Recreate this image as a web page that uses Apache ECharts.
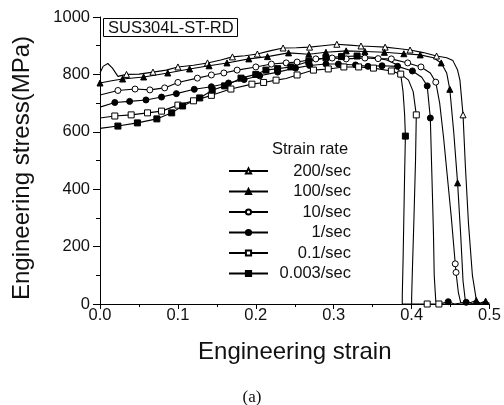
<!DOCTYPE html>
<html><head><meta charset="utf-8">
<script src="https://cdn.jsdelivr.net/npm/echarts@6/dist/echarts.min.js"></script>
<style>html,body{margin:0;padding:0;background:#fff}#c{width:504px;height:405px}</style>
</head><body><div id="c"></div>
<script>
// ---- data (strain, stress MPa) ----
const rateNames = ['200/sec', '100/sec', '10/sec', '1/sec', '0.1/sec', '0.003/sec'];
const xTicks = [0, 0.1, 0.2, 0.3, 0.4, 0.5];
const yTicks = [0, 200, 400, 600, 800, 1000];

const s200 = [[0.000,805],[0.004,828],[0.010,838],[0.016,822],[0.023,793],[0.034,800],[0.050,801],[0.068,808],[0.085,815],[0.100,826],[0.120,832],[0.138,840],[0.155,850],[0.170,861],[0.186,865],[0.202,871],[0.218,882],[0.235,892],[0.252,893],[0.269,895],[0.286,900],[0.304,905],[0.320,902],[0.335,899],[0.350,897],[0.366,895],[0.382,890],[0.398,885],[0.415,876],[0.432,864],[0.445,858],[0.453,848],[0.459,815],[0.462,780],[0.466,659],[0.469,480],[0.473,280],[0.478,100],[0.483,15],[0.487,2],[0.497,0]];
const m200 = [0.034,0.068,0.100,0.138,0.170,0.202,0.235,0.269,0.304,0.335,0.366,0.398,0.432,0.466];

const s100 = [[0.000,770],[0.015,778],[0.029,784],[0.056,791],[0.070,797],[0.087,805],[0.115,819],[0.140,830],[0.163,840],[0.191,854],[0.215,862],[0.242,875],[0.268,870],[0.290,877],[0.316,882],[0.340,880],[0.365,877],[0.390,872],[0.411,868],[0.428,858],[0.438,840],[0.445,805],[0.449,748],[0.454,600],[0.459,422],[0.463,240],[0.466,80],[0.469,10],[0.475,4],[0.483,12],[0.488,3],[0.495,10],[0.500,2]];
const m100 = [0.000,0.029,0.056,0.087,0.115,0.140,0.163,0.191,0.215,0.242,0.268,0.290,0.316,0.340,0.365,0.390,0.411,0.438,0.449,0.459,0.483,0.495];

const s10 = [[0.000,728],[0.023,744],[0.045,749],[0.064,746],[0.083,753],[0.100,772],[0.125,787],[0.143,798],[0.159,805],[0.176,815],[0.200,826],[0.220,836],[0.239,840],[0.253,843],[0.277,854],[0.298,857],[0.316,854],[0.340,857],[0.357,855],[0.374,854],[0.395,840],[0.412,826],[0.424,805],[0.431,773],[0.436,700],[0.441,580],[0.446,440],[0.451,300],[0.456,140],[0.457,110],[0.460,40],[0.463,5],[0.470,0]];
const m10 = [0.023,0.045,0.064,0.083,0.100,0.125,0.143,0.159,0.176,0.200,0.220,0.239,0.253,0.277,0.298,0.316,0.340,0.357,0.374,0.395,0.412,0.431,0.456,0.457];

const s1 = [[0.000,686],[0.019,702],[0.038,706],[0.059,711],[0.079,721],[0.098,733],[0.121,748],[0.143,757],[0.165,770],[0.185,782],[0.205,795],[0.228,808],[0.251,822],[0.269,831],[0.290,836],[0.306,836],[0.328,833],[0.344,828],[0.362,830],[0.382,828],[0.401,812],[0.413,790],[0.420,760],[0.424,648],[0.426,450],[0.428,250],[0.429,100],[0.431,10],[0.435,0],[0.447,8],[0.455,0],[0.470,6],[0.480,0]];
const m1 = [0.019,0.038,0.059,0.079,0.098,0.121,0.143,0.165,0.185,0.205,0.228,0.251,0.269,0.290,0.306,0.328,0.344,0.362,0.382,0.401,0.420,0.424,0.447,0.470];

const s01 = [[0.000,648],[0.019,655],[0.040,659],[0.061,666],[0.079,672],[0.100,693],[0.120,708],[0.143,727],[0.168,749],[0.195,766],[0.210,772],[0.226,780],[0.239,786],[0.253,798],[0.274,815],[0.293,819],[0.313,826],[0.332,826],[0.351,822],[0.374,812],[0.386,801],[0.396,780],[0.402,740],[0.406,659],[0.405,500],[0.403,300],[0.401,120],[0.400,20],[0.400,0],[0.420,0],[0.435,0],[0.450,0]];
const m01 = [0.019,0.040,0.061,0.079,0.100,0.120,0.143,0.168,0.195,0.210,0.226,0.253,0.274,0.293,0.313,0.332,0.351,0.374,0.386,0.406,0.420,0.435];

const s0003 = [[0.000,612],[0.023,620],[0.048,631],[0.073,645],[0.092,666],[0.106,690],[0.128,718],[0.144,745],[0.160,760],[0.181,787],[0.200,800],[0.213,815],[0.228,820],[0.245,826],[0.268,845],[0.290,858],[0.310,862],[0.330,864],[0.350,860],[0.368,850],[0.380,835],[0.386,800],[0.389,740],[0.391,660],[0.392,585],[0.391,450],[0.390,300],[0.389,150],[0.388,30],[0.388,0],[0.400,0]];
const m0003 = [0.023,0.048,0.073,0.092,0.106,0.128,0.144,0.160,0.181,0.200,0.213,0.228,0.245,0.268,0.290,0.310,0.330,0.392];

// ---- chart ----
const chart = echarts.init(document.getElementById('c'), null, {renderer: 'canvas'});
const FONT = 'Liberation Sans, Arial, sans-serif';
const FS = 16.5;

function mk(name, pts, marks, symbol, filled) {
  return {
    type: 'line', name: name,
    data: pts.map(p => marks.indexOf(p[0]) >= 0 ? {value: p} : {value: p, symbol: 'none'}),
    symbol: symbol, symbolSize: 6, showSymbol: true,
    smooth: false, animation: false,
    lineStyle: {color: '#000', width: 1.1},
    itemStyle: {color: filled ? '#000' : '#fff', borderColor: '#000', borderWidth: 1},
    emphasis: {disabled: true}
  };
}

const series = [
  mk(rateNames[0], s200, m200, 'triangle', false),
  mk(rateNames[1], s100, m100, 'triangle', true),
  mk(rateNames[2], s10, m10, 'circle', false),
  mk(rateNames[3], s1, m1, 'circle', true),
  mk(rateNames[4], s01, m01, 'rect', false),
  mk(rateNames[5], s0003, m0003, 'rect', true)
];

chart.setOption({
  backgroundColor: '#fff',
  animation: false,
  title: [
    {text: 'SUS304L-ST-RD', left: 103, top: 18, padding: [1, 4, 0, 5],
     borderColor: '#000', borderWidth: 1,
     textStyle: {fontFamily: FONT, fontSize: FS, fontWeight: 'normal', color: '#111', lineHeight: 18}},
    {text: 'Strain rate', left: 272, top: 141, padding: 0,
     textStyle: {fontFamily: FONT, fontSize: FS, fontWeight: 'normal', color: '#111'}},
    {text: '(a)', left: 'center', top: 389, padding: 0,
     textStyle: {fontFamily: 'Liberation Serif, serif', fontSize: 17, fontWeight: 'normal', color: '#111'}}
  ],
  legend: {
    orient: 'vertical', left: 228, top: 162.5, padding: 0,
    itemWidth: 39, itemHeight: 6.5, itemGap: 3.5,
    data: rateNames,
    inactiveColor: '#000',
    selectedMode: false,
    formatter: n => '{a|' + n + '}',
    textStyle: {fontFamily: FONT, fontSize: FS, color: '#111',
      rich: {a: {width: 78, align: 'right', lineHeight: 16, fontFamily: FONT, fontSize: FS, color: '#111'}}}
  },
  grid: {left: 100, right: 13, top: 17, bottom: 101, containLabel: false},
  xAxis: {
    type: 'value', min: 0, max: 0.5, interval: 0.1,
    name: 'Engineering strain', nameLocation: 'middle', nameGap: 36,
    nameTextStyle: {fontFamily: FONT, fontSize: 24, color: '#111'},
    axisLine: {show: true, onZero: false, lineStyle: {color: '#000', width: 1}},
    axisTick: {show: true, length: 5, lineStyle: {color: '#000'}},
    minorTick: {show: true, splitNumber: 2, length: 3, lineStyle: {color: '#000'}},
    splitLine: {show: false},
    axisLabel: {margin: 3, fontFamily: FONT, fontSize: FS, color: '#111',
      formatter: v => v.toFixed(1)}
  },
  yAxis: {
    type: 'value', min: 0, max: 1000, interval: 200,
    name: 'Engineering stress(MPa)', nameLocation: 'middle', nameGap: 66,
    nameTextStyle: {fontFamily: FONT, fontSize: 24, color: '#111', padding: [0, 15, 0, 0]},
    axisLine: {show: true, onZero: false, lineStyle: {color: '#000', width: 1}},
    axisTick: {show: true, length: 7, lineStyle: {color: '#000'}},
    minorTick: {show: true, splitNumber: 2, length: 4, lineStyle: {color: '#000'}},
    splitLine: {show: false},
    axisLabel: {margin: 10, fontFamily: FONT, fontSize: FS, color: '#111',
      formatter: v => String(v)}
  },
  series: series
});
</script>
</body></html>
